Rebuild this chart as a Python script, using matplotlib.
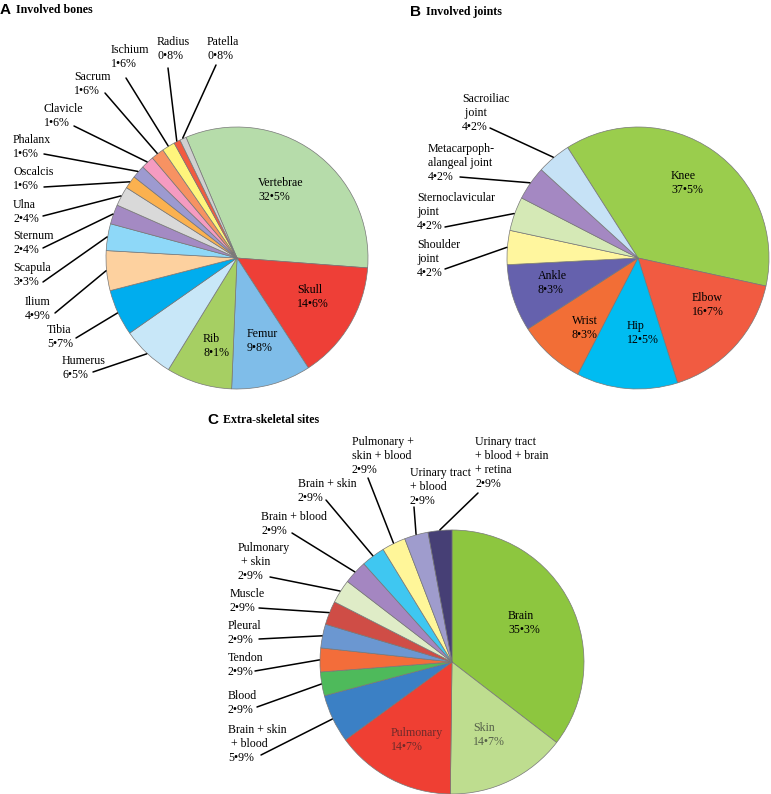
import numpy as np
import matplotlib
matplotlib.use("Agg")
import matplotlib.pyplot as plt

# --- data: involved bones ---
bones = ["Vertebrae", "Skull", "Femur", "Rib", "Humerus", "Tibia", "Ilium", "Scapula",
         "Sternum", "Ulna", "Oscalcis", "Phalanx", "Clavicle", "Sacrum", "Ischium",
         "Radius", "Patella"]
bone_pct = [32.5, 14.6, 9.8, 8.1, 6.5, 5.7, 4.9, 3.3, 2.4, 2.4, 1.6, 1.6, 1.6, 1.6, 1.6, 0.8, 0.8]
bone_colors = ["#b6dcaa", "#ee3f37", "#7fbde9", "#a6cf63", "#c8e7f8", "#00adee", "#fdd19f",
               "#8ed8f8", "#a48ac3", "#d9d9d9", "#fbb14f", "#9d9ad0", "#f59bc1", "#f79262",
               "#fff57c", "#f15b40", "#d0d0d0"]

# --- data: involved joints ---
joints = ["Knee", "Elbow", "Hip", "Wrist", "Ankle", "Shoulder\njoint", "Sternoclavicular\njoint",
          "Metacarpoph-\nalangeal joint", "Sacroiliac\n joint"]
joint_pct = [37.5, 16.7, 12.5, 8.3, 8.3, 4.2, 4.2, 4.2, 4.2]
joint_colors = ["#9acd4d", "#f15b41", "#00bcf1", "#f26e36", "#6561ad", "#fff69e", "#d5e9b6",
                "#a488c2", "#c6e2f6"]

# --- data: extra-skeletal sites ---
sites = ["Brain", "Skin", "Pulmonary", "Brain + skin\n + blood", "Blood", "Tendon", "Pleural",
         "Muscle", "Pulmonary\n + skin", "Brain + blood", "Brain + skin", "Pulmonary +\nskin + blood",
         "Urinary tract\n+ blood", "Urinary tract\n+ blood + brain\n+ retina"]
site_pct = [35.3, 14.7, 14.7, 5.9, 2.9, 2.9, 2.9, 2.9, 2.9, 2.9, 2.9, 2.9, 2.9, 2.9]
site_colors = ["#8dc63f", "#bedd8f", "#ef3f33", "#3b80c5", "#4eba5b", "#f36d3a", "#6b97d1",
               "#cf4d46", "#dfecc7", "#a486c1", "#3fc7f1", "#fff699", "#9f9ccd", "#463f75"]

W, H = 771, 794
fig = plt.figure(figsize=(W / 100, H / 100), dpi=100)
SERIF = "Liberation Serif"
FS = 8.6
LS = 1.2


def ff(x, y):
    return (x / W, 1 - y / H)


def fmt(v):
    return ("%.1f%%" % v).replace(".", "\u2022")


def draw_pie(cx, cy, r, values, colors, start):
    L = 1.05
    ax = fig.add_axes([(cx - r * L) / W, (H - cy - r * L) / H, 2 * r * L / W, 2 * r * L / H])
    wedges, _ = ax.pie(values, colors=colors, startangle=start, counterclock=False,
                       wedgeprops=dict(edgecolor="#777777", linewidth=0.5))
    ax.set_xlim(-L, L)
    ax.set_ylim(-L, L)
    ax.axis("off")
    return ax, wedges


def outer_label(ax, wedge, text, tx, ty, lx, ly):
    fig.text(*ff(tx, ty), text, ha="left", va="center", family=SERIF, fontsize=FS, linespacing=LS)
    mid = np.deg2rad((wedge.theta1 + wedge.theta2) / 2)
    ax.annotate("", xy=(1.005 * np.cos(mid), 1.005 * np.sin(mid)), xycoords="data",
                xytext=ff(lx, ly), textcoords="figure fraction", annotation_clip=False,
                arrowprops=dict(arrowstyle="-", color="black", lw=1.1, shrinkA=0, shrinkB=0))


def inner_label(text, x, y, color="black"):
    fig.text(*ff(x, y), text, ha="left", va="center", family=SERIF, fontsize=FS,
             linespacing=LS, color=color)


def title(letter, text, x, y):
    fig.text(*ff(x, y), letter, ha="left", va="center", family="Liberation Sans",
             fontweight="bold", fontsize=11)
    fig.text(*ff(x + 16, y), text, ha="left", va="center", family=SERIF,
             fontweight="bold", fontsize=8.6)


# ---- A ----
axA, wA = draw_pie(237, 258, 131, bone_pct, bone_colors, 112.9)
title("A", "Involved bones", 0, 10)
inner_A = {"Vertebrae": (258, 190), "Skull": (297, 297), "Femur": (247, 341), "Rib": (203, 346)}
outer_A = {"Humerus": (62, 368, 93, 372), "Tibia": (47, 337, 76, 338), "Ilium": (25, 309, 55, 313),
           "Scapula": (13, 275, 43, 282), "Sternum": (13, 243, 43, 248), "Ulna": (13, 212, 43, 216),
           "Oscalcis": (13, 179, 44, 187), "Phalanx": (13, 147, 44, 154),
           "Clavicle": (44, 116, 74, 126), "Sacrum": (74, 84, 105, 93),
           "Ischium": (111, 57, 126, 78), "Radius": (157, 49, 168, 68), "Patella": (207, 49, 216, 65)}
for name, v, w in zip(bones, bone_pct, wA):
    label = name + "\n" + fmt(v)
    if name in inner_A:
        inner_label(label, *inner_A[name])
    else:
        outer_label(axA, w, label, *outer_A[name])

# ---- B ----
axB, wB = draw_pie(638, 258, 131, joint_pct, joint_colors, 122.5)
title("B", "Involved joints", 410, 12)
inner_B = {"Knee": (671, 183), "Elbow": (692, 305), "Hip": (627, 333), "Wrist": (572, 328),
           "Ankle": (538, 283)}
outer_B = {"Shoulder\njoint": (417, 259, 445, 269), "Sternoclavicular\njoint": (417, 212, 445, 227),
           "Metacarpoph-\nalangeal joint": (428, 163, 460, 177),
           "Sacroiliac\n joint": (462, 113, 490, 128)}
for name, v, w in zip(joints, joint_pct, wB):
    label = name + "\n" + fmt(v)
    if name in inner_B:
        inner_label(label, *inner_B[name])
    else:
        outer_label(axB, w, label, *outer_B[name])

# ---- C ----
axC, wC = draw_pie(452, 662, 132, site_pct, site_colors, 90)
title("C", "Extra-skeletal sites", 207, 420)
inner_C = {"Brain": (508, 623, "black"), "Skin": (473, 735, "#56614a"),
           "Pulmonary": (391, 740, "#6e2a2a")}
outer_C = {"Brain + skin\n + blood": (228, 744, 261, 755), "Blood": (228, 703, 257, 707),
           "Tendon": (228, 665, 255, 671), "Pleural": (228, 633, 259, 639),
           "Muscle": (230, 601, 259, 608), "Pulmonary\n + skin": (238, 562, 270, 577),
           "Brain + blood": (261, 524, 292, 533), "Brain + skin": (298, 491, 326, 500),
           "Pulmonary +\nskin + blood": (352, 456, 368, 478),
           "Urinary tract\n+ blood": (410, 487, 414, 507),
           "Urinary tract\n+ blood + brain\n+ retina": (475, 463, 478, 493)}
for name, v, w in zip(sites, site_pct, wC):
    label = name + "\n" + fmt(v)
    if name in inner_C:
        x, y, c = inner_C[name]
        inner_label(label, x, y, c)
    else:
        outer_label(axC, w, label, *outer_C[name])

fig.savefig("out.png", dpi=100)
